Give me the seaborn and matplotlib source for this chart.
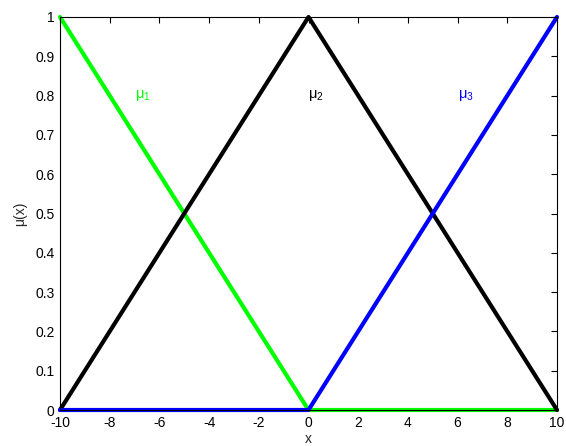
import matplotlib
matplotlib.use("Agg")
import matplotlib.pyplot as plt
import seaborn as sns
import pandas as pd

# membership function breakpoints
x_pts = [-10, 0, 10]
mu1 = [1, 0, 0]
mu2 = [0, 1, 0]
mu3 = [0, 0, 1]
names = ["mu1", "mu2", "mu3"]
colors = ["#00ff00", "#000000", "#0000ff"]
label_texts = ["μ$_1$", "μ$_2$", "μ$_3$"]
label_x = [-7, 0, 6]
label_y = 0.8

xticks = list(range(-10, 11, 2))
yticks = [round(0.1 * i, 1) for i in range(11)]

sns.set_theme(style="white")
plt.rcParams["font.family"] = ["Liberation Sans", "DejaVu Sans"]
plt.rcParams["mathtext.fontset"] = "custom"
plt.rcParams["mathtext.rm"] = "Liberation Sans"
plt.rcParams["mathtext.default"] = "regular"
plt.rcParams["xtick.direction"] = "in"
plt.rcParams["ytick.direction"] = "in"

df = pd.DataFrame({
    "x": x_pts * 3,
    "mu": mu1 + mu2 + mu3,
    "set": [n for n in names for _ in x_pts],
})

fig = plt.figure(figsize=(5.66, 4.46), dpi=100)
ax = fig.add_axes([60 / 566, 36 / 446, 497 / 566, 393 / 446])

sns.lineplot(data=df, x="x", y="mu", hue="set", palette=colors,
             linewidth=3, legend=False, ax=ax, clip_on=False)

for t, lx, c in zip(label_texts, label_x, colors):
    ax.text(lx, label_y, t, color=c, fontsize=10.5, ha="left", va="center")

ax.set_xlim(-10, 10)
ax.set_ylim(0, 1)
ax.set_xticks(xticks)
ax.set_xticklabels([str(v) for v in xticks])
ax.set_yticks(yticks)
ax.set_yticklabels(["0"] + [f"{v:.1f}" for v in yticks[1:-1]] + ["1"])
ax.tick_params(axis="both", labelsize=10, length=4, width=0.8, color="black",
               top=True, right=True, labelcolor="black", pad=4)
for s in ax.spines.values():
    s.set_color("black")
    s.set_linewidth(0.8)
ax.set_xlabel("x", fontsize=10, labelpad=2)
ax.set_ylabel("μ(x)", fontsize=10, labelpad=6)

fig.savefig("out.png", dpi=100)
